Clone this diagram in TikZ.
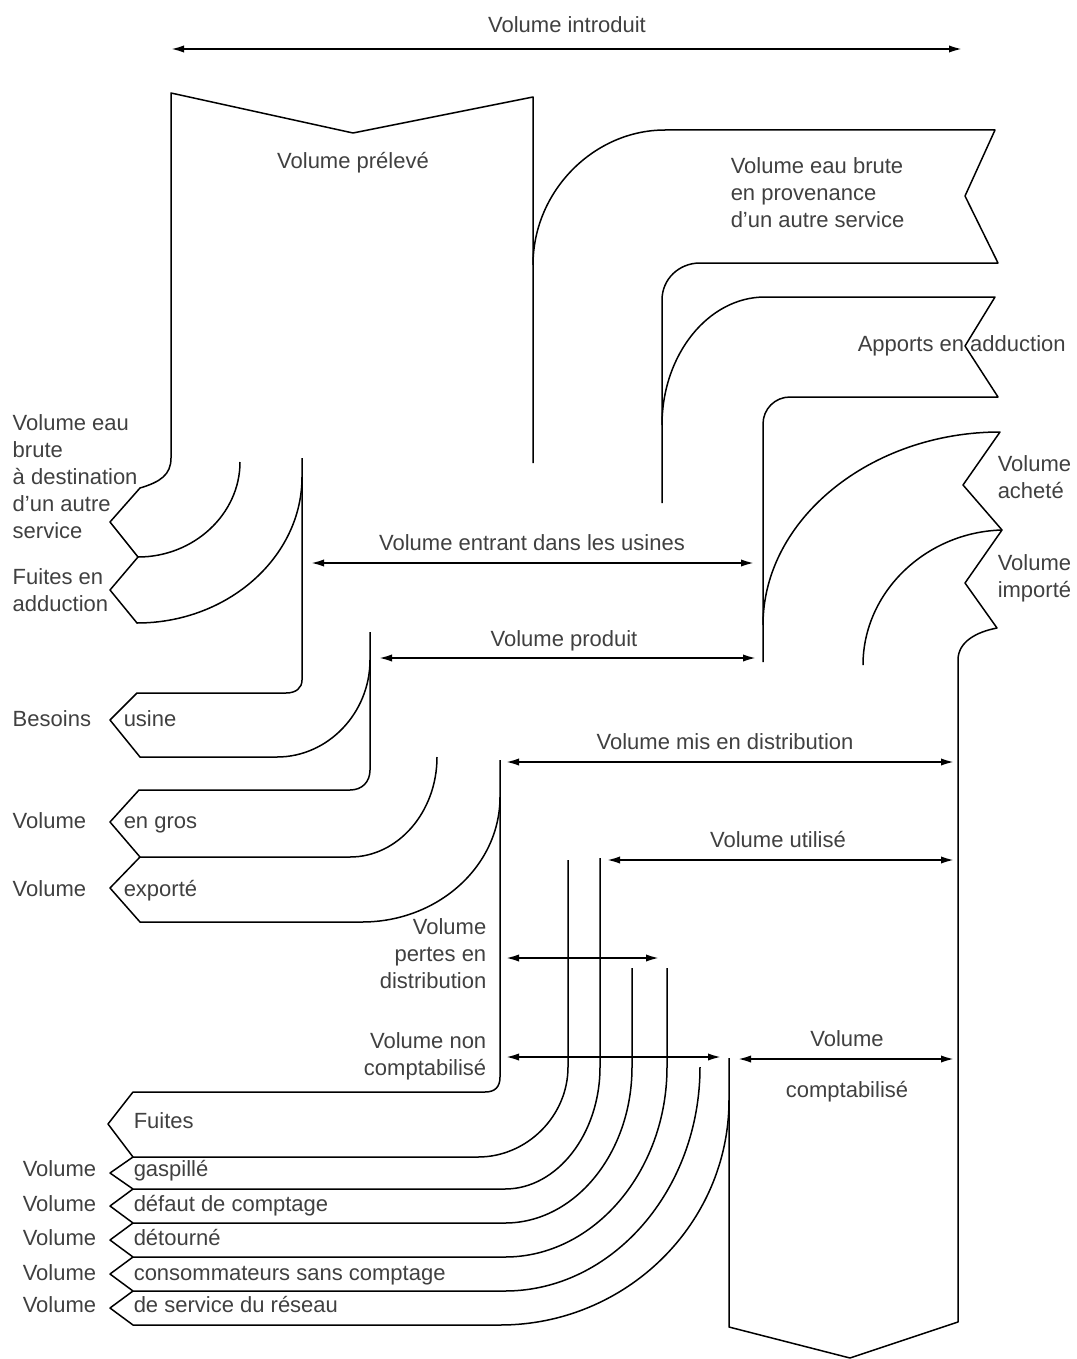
\documentclass[tikz,border=0pt]{standalone}
\usepackage{fontspec}
\setmainfont{Liberation Sans}
\usetikzlibrary{arrows.meta}

\begin{document}
\begin{tikzpicture}[x=0.5pt,y=-0.5pt,line width=0.75pt,line join=round,
    measure/.style={{Latex[length=7pt,width=3.6pt]}-{Latex[length=7pt,width=3.6pt]},line width=1.2pt},
    txt/.style={text=black!75,font=\fontsize{11}{13.5}\selectfont,inner sep=0pt,align=left},
    oneline/.style={txt,text height=10pt,text depth=1.5pt}]
            \useasboundingbox (0,0) rectangle (1076,1359);
            % intake column, raw water sent to another service
            \draw (240,462) .. controls (240,514) and (194,557) .. (138,557) -- (110,522) -- (140,488) .. controls (160,482) and (171,475) .. (171,458) -- (171,93) -- (353,133) -- (533,97) -- (533,463);
            \draw (138,557) -- (110,590) -- (137,623) .. controls (228,623) and (302,557) .. (302,477);
            \draw (302,458) -- (302,680) .. controls (302,688) and (296,693) .. (286,693) -- (137,693) -- (110,720) -- (140,757) -- (277,757) .. controls (328,757) and (370,713) .. (370,660);
            \draw (370,632) -- (370,770) .. controls (370,782) and (362,790) .. (350,790) -- (139,790) -- (110,822) -- (140,857) -- (350,857) .. controls (398,857) and (437,812) .. (437,757);
            \draw (140,857) -- (110,888) -- (140,922) -- (362,922) .. controls (438,922) and (500,866) .. (500,797);
            % raw water from another service, supply inflows
            \draw (533,265) .. controls (533,191) and (594,130) .. (665,130) -- (995,130) -- (965,196) -- (998,263) -- (700,263) .. controls (679,263) and (662,279) .. (662,300) -- (662,503);
            \draw (662,425) .. controls (662,355) and (708,297) .. (765,297) -- (995,297) -- (965,346) -- (998,397) -- (790,397) .. controls (775,397) and (763,409) .. (763,424) -- (763,662);
            \draw (729,1058) -- (729,1327) -- (850,1358) -- (958,1322) -- (958,660) .. controls (958,642) and (976,632) .. (997,628) -- (965,583) -- (1002,530) -- (963,485) -- (1000,432) .. controls (871,432) and (763,519) .. (763,625);
            \draw (1002,530) .. controls (926,532) and (863,592) .. (863,665);
            % distribution losses
            \draw (500,760) -- (500,1077) .. controls (500,1087) and (495,1092) .. (485,1092) -- (133,1092) -- (108,1124) -- (133,1157) -- (478,1157) .. controls (527,1157) and (568,1116) .. (568,1067) -- (568,860);
            \draw (133,1157) -- (110,1173) -- (133,1189) -- (505,1189) .. controls (557,1189) and (600,1134) .. (600,1067) -- (600,858);
            \draw (133,1189) -- (110,1206) -- (133,1223) -- (505,1223) .. controls (575,1223) and (632,1153) .. (632,1067) -- (632,968);
            \draw (133,1223) -- (110,1240) -- (133,1257) -- (505,1257) .. controls (594,1257) and (667,1171) .. (667,1067) -- (667,968);
            \draw (133,1257) -- (110,1274) -- (133,1291) -- (505,1291) .. controls (612,1291) and (700,1190) .. (700,1067);
            \draw (133,1291) -- (110,1308) -- (133,1325) -- (500,1325) .. controls (626,1325) and (729,1224) .. (729,1100);
            % volume arrows
            \coordinate (intro-l) at (170,49);   \coordinate (intro-r) at (963,49);
            \coordinate (usines-l) at (310,563); \coordinate (usines-r) at (755,563);
            \coordinate (prod-l) at (378,658);   \coordinate (prod-r) at (757,658);
            \coordinate (distr-l) at (505,762);  \coordinate (distr-r) at (955,762);
            \coordinate (util-l) at (606,860);   \coordinate (util-r) at (955,860);
            \coordinate (pertes-l) at (505,958); \coordinate (pertes-r) at (660,958);
            \coordinate (nonc-l) at (505,1057);  \coordinate (nonc-r) at (722,1057);
            \coordinate (compt-l) at (737,1059); \coordinate (compt-r) at (955,1059);
            \draw[measure] (intro-l) -- (intro-r);
            \draw[measure] (usines-l) -- (usines-r);
            \draw[measure] (prod-l) -- (prod-r);
            \draw[measure] (distr-l) -- (distr-r);
            \draw[measure] (util-l) -- (util-r);
            \draw[measure] (pertes-l) -- (pertes-r);
            \draw[measure] (nonc-l) -- (nonc-r);
            \draw[measure] (compt-l) -- (compt-r);
            % texts
            \node[oneline] (introduit) at (567,24) {Volume introduit};
            \node[oneline] (preleve) at (353,160) {Volume prélevé};
            \node[txt,anchor=west] (provenance) at (730,193) {Volume eau brute\\en provenance\\d'un autre service};
            \node[oneline,anchor=west] (apports) at (857,343) {Apports en adduction};
            \node[txt,anchor=west] (achete) at (997,477) {Volume\\acheté};
            \node[txt,anchor=west] (importe) at (997,578) {Volume\\importé};
            \node[txt,anchor=west] (destination) at (12,477) {Volume eau\\brute\\à destination\\d'un autre\\service};
            \node[txt,anchor=west] (fuitesadd) at (12,590) {Fuites en\\adduction};
            \node[oneline,anchor=west] (besoins) at (12,718) {Besoins};
            \node[oneline,anchor=west] (usine) at (123,718) {usine};
            \node[oneline,anchor=west] (gros-a) at (12,820) {Volume};
            \node[oneline,anchor=west] (gros-b) at (123,820) {en gros};
            \node[oneline,anchor=west] (export-a) at (12,888) {Volume};
            \node[oneline,anchor=west] (export-b) at (123,888) {exporté};
            \node[oneline] (entrant) at (532,542) {Volume entrant dans les usines};
            \node[oneline] (produit) at (564,638) {Volume produit};
            \node[oneline] (distribution) at (725,741) {Volume mis en distribution};
            \node[oneline] (utilise) at (778,839) {Volume utilisé};
            \node[txt,anchor=east,align=right] (pertes) at (487,954) {Volume\\pertes en\\distribution};
            \node[txt,anchor=east,align=right] (noncompta) at (487,1056) {Volume non\\comptabilisé};
            \node[oneline] (compta-a) at (847,1038) {Volume};
            \node[oneline] (compta-b) at (847,1089) {comptabilisé};
            \node[oneline,anchor=west] (fuites) at (133,1120) {Fuites};
            \node[oneline,anchor=west] (gaspi-a) at (22,1168) {Volume};
            \node[oneline,anchor=west] (gaspi-b) at (133,1168) {gaspillé};
            \node[oneline,anchor=west] (defaut-a) at (22,1203) {Volume};
            \node[oneline,anchor=west] (defaut-b) at (133,1203) {défaut de comptage};
            \node[oneline,anchor=west] (detour-a) at (22,1237) {Volume};
            \node[oneline,anchor=west] (detour-b) at (133,1237) {détourné};
            \node[oneline,anchor=west] (sans-a) at (22,1272) {Volume};
            \node[oneline,anchor=west] (sans-b) at (133,1272) {consommateurs sans comptage};
            \node[oneline,anchor=west] (service-a) at (22,1304) {Volume};
            \node[oneline,anchor=west] (service-b) at (133,1304) {de service du réseau};
        \end{tikzpicture}
\end{document}
